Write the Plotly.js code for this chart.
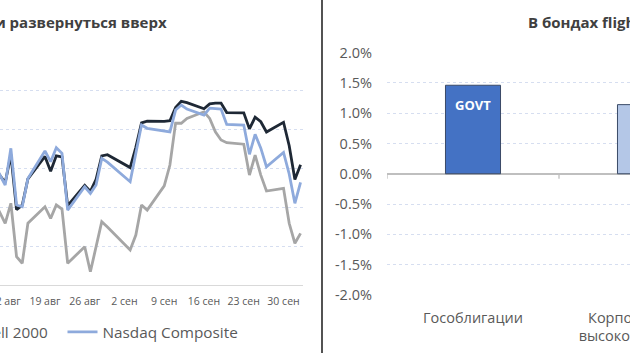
<!DOCTYPE html>
<html><head><meta charset="utf-8">
<script src="https://cdn.plot.ly/plotly-3.0.1.min.js"></script>
<style>
html,body{margin:0;padding:0;width:630px;height:355px;overflow:hidden;background:#fff}
#wrap{position:relative;width:630px;height:355px;overflow:hidden}
#chart{position:absolute;left:-300px;top:0;width:1100px;height:355px}
</style>
</head><body><div id="wrap"><div id="chart"></div></div>
<script>
// ---- data (% change vs. base), 2019 trading days ----
const dates = ['2019-08-09','2019-08-12','2019-08-13','2019-08-14','2019-08-15','2019-08-16',
  '2019-08-19','2019-08-20','2019-08-21','2019-08-22','2019-08-23',
  '2019-08-26','2019-08-27','2019-08-28','2019-08-29','2019-08-30',
  '2019-09-03','2019-09-04','2019-09-05','2019-09-06',
  '2019-09-09','2019-09-10','2019-09-11','2019-09-12','2019-09-13',
  '2019-09-16','2019-09-17','2019-09-18','2019-09-19','2019-09-20',
  '2019-09-23','2019-09-24','2019-09-25','2019-09-26','2019-09-27',
  '2019-09-30','2019-10-01','2019-10-02','2019-10-03'];
const sp500 = [-3.54,-4.73,-3.29,-6.12,-5.89,-4.53,-3.38,-4.14,-3.35,-3.40,
  -5.91,-4.87,-5.18,-4.56,-3.35,-3.29,-3.95,-2.91,-1.65,-1.56,
  -1.57,-1.54,-0.86,-0.54,-0.61,-0.92,-0.67,-0.63,-0.63,-1.12,
  -1.13,-1.96,-1.36,-1.59,-2.12,-1.62,-2.83,-4.57,-3.81];
const russell2000 = [-5.06,-6.82,-5.79,-8.54,-8.88,-6.82,-5.97,-6.57,-5.88,-6.09,
  -8.88,-8.03,-9.32,-7.99,-6.74,-7.01,-8.20,-7.43,-5.88,-6.14,
  -4.89,-3.82,-1.66,-1.67,-1.42,-1.08,-1.42,-2.11,-2.53,-2.67,
  -2.75,-4.34,-3.31,-4.34,-5.16,-5.02,-6.82,-7.85,-7.34];
const nasdaq = [-3.18,-4.85,-2.96,-5.88,-5.97,-4.51,-3.10,-3.65,-2.93,-3.22,
  -6.14,-4.94,-5.28,-4.85,-3.48,-3.67,-4.68,-3.15,-1.76,-1.93,
  -2.04,-2.11,-0.99,-0.73,-0.94,-1.25,-0.89,-0.91,-0.94,-1.73,
  -1.76,-3.27,-2.24,-2.95,-3.91,-3.17,-4.28,-5.79,-4.71];
const seriesNames = ['S&P 500','Russell 2000','Nasdaq Composite'];
const weekTicks = ['2019-08-12','2019-08-19','2019-08-26','2019-09-02','2019-09-09','2019-09-16','2019-09-23','2019-09-30'];
const weekTickLabels = ['12 авг','19 авг','26 авг','2 сен','9 сен','16 сен','23 сен','30 сен'];
const indexTicks = [-10,-8,-6,-4,-2,0,2];

const bondCategories = ['Гособлигации','Корпоративные<br>высокого качества'];
const bondValues = [1.46, 1.14];
const bondTickers = ['GOVT',''];
const bondTicks = [-2,-1.5,-1,-0.5,0,0.5,1,1.5,2];
const bondTickLabels = ['-2.0%','-1.5%','-1.0%','-0.5%','0.0%','0.5%','1.0%','1.5%','2.0%'];

const leftTitle = 'Индексы предпринимают попытки развернуться вверх';
const rightTitle = 'В бондах flight to quality';

// ---- layout geometry (page px -> paper) ----
const W = 1100, H = 355, OFF = 300;
const px = x => (x + OFF) / W;
const py = y => (H - y) / H;

const FONT = 'Open Sans, Segoe UI, sans-serif';
const TXT = '#595959';
const GRID = '#d6def0';

const traces = [
  {x: dates, y: sp500, name: seriesNames[0], type: 'scatter', mode: 'lines', showlegend: false,
   line: {color: '#1e2835', width: 2.8}, xaxis: 'x', yaxis: 'y'},
  {x: dates, y: russell2000, name: seriesNames[1], type: 'scatter', mode: 'lines', legend: 'legend',
   line: {color: '#a6a6a6', width: 2.8}, xaxis: 'x', yaxis: 'y'},
  {x: dates, y: nasdaq, name: seriesNames[2], type: 'scatter', mode: 'lines', legend: 'legend2',
   line: {color: '#8eaadc', width: 2.8}, xaxis: 'x', yaxis: 'y'},
  {x: bondCategories, y: bondValues, type: 'bar', width: 0.32, showlegend: false,
   marker: {color: ['#4472c4', '#b4c7e7'], line: {color: '#3a4a66', width: 1}},
   xaxis: 'x2', yaxis: 'y2', hoverinfo: 'skip'}
];

const annotations = [
  {xref: 'paper', yref: 'paper', x: px(168.5), y: py(21.5), xanchor: 'right', yanchor: 'middle',
   text: '<b>' + leftTitle + '</b>', showarrow: false, font: {family: FONT, size: 15, color: '#404040'}},
  {xref: 'paper', yref: 'paper', x: px(526), y: py(21.5), xanchor: 'left', yanchor: 'middle',
   text: '<b>' + rightTitle + '</b>', showarrow: false, font: {family: FONT, size: 15, color: '#404040'}}
];
bondCategories.forEach((c, i) => {
  if (!bondTickers[i]) return;
  annotations.push({xref: 'x2', yref: 'y2', x: c, y: bondValues[i], yanchor: 'top', yshift: -9,
    text: '<b>' + bondTickers[i] + '</b>', showarrow: false,
    font: {family: FONT, size: 13, color: '#ffffff'}});
});

const shapes = [
  {type: 'line', xref: 'paper', yref: 'paper', x0: px(322), x1: px(322), y0: py(353), y1: 1,
   line: {color: '#404040', width: 1.8}}
];
for (let i = 0; i <= bondCategories.length; i++) {
  shapes.push({type: 'line', xref: 'x2', yref: 'y2', ysizemode: 'pixel', yanchor: 0,
    x0: i - 0.5, x1: i - 0.5, y0: 0, y1: -5, line: {color: '#bfbfbf', width: 1.3}});
}

const legendStyle = {orientation: 'h', y: py(332), xanchor: 'left', yanchor: 'middle',
  font: {family: FONT, size: 15.3, color: TXT}, bgcolor: 'rgba(0,0,0,0)', itemwidth: 30};

const layout = {
  width: W, height: H,
  margin: {l: 0, r: 0, t: 0, b: 0, pad: 0},
  paper_bgcolor: '#ffffff', plot_bgcolor: 'rgba(0,0,0,0)',
  font: {family: FONT, color: TXT},
  showlegend: true,
  legend: Object.assign({x: px(-81)}, legendStyle),
  legend2: Object.assign({x: px(62.5)}, legendStyle),
  xaxis: {type: 'date', domain: [px(-227.7), px(303)], range: ['2019-07-02', '2019-10-03 10:19'],
    tickmode: 'array', tickvals: weekTicks, ticktext: weekTickLabels,
    tickfont: {family: FONT, size: 10.5, color: TXT}, ticks: '', showgrid: false,
    showline: true, linecolor: '#d9d9d9', linewidth: 1.3, zeroline: false, anchor: 'y',
    ticklabelstandoff: 6},
  yaxis: {domain: [py(285), py(52)], range: [-10, 2], tickmode: 'array', tickvals: indexTicks,
    showticklabels: false,
    showgrid: true, gridcolor: GRID, griddash: 'dot', gridwidth: 1, zeroline: false,
    showline: false, ticks: '', anchor: 'x'},
  xaxis2: {type: 'category', domain: [px(387), px(731)], range: [-0.5, bondCategories.length - 0.5],
    anchor: 'y2', tickfont: {family: FONT, size: 14.5, color: TXT}, ticks: '', showgrid: false,
    showline: false, zeroline: false, ticklabelstandoff: 12},
  yaxis2: {domain: [py(295), py(52.5)], range: [-2, 2], anchor: 'x2', tickmode: 'array',
    tickvals: bondTicks, ticktext: bondTickLabels, tickfont: {family: FONT, size: 14.5, color: TXT},
    showgrid: true, gridcolor: GRID, griddash: 'dot', gridwidth: 1,
    zeroline: true, zerolinecolor: '#bfbfbf', zerolinewidth: 1.5, ticks: '', ticklabelstandoff: 14},
  annotations: annotations,
  shapes: shapes
};

Plotly.newPlot('chart', traces, layout, {staticPlot: true, displayModeBar: false});
</script>
</body></html>
